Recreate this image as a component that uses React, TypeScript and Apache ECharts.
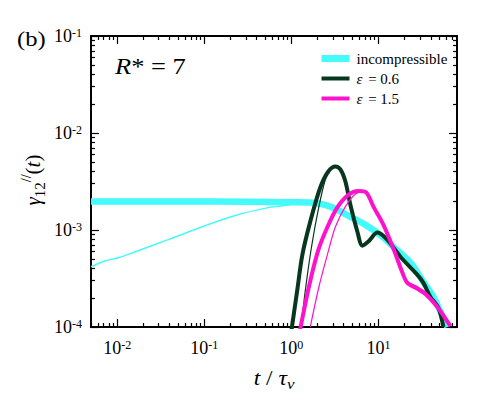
import * as echarts from 'echarts'
import { useEffect, useRef } from 'react'

// t / tau_nu values and gamma_12^//(t) values
const incompT = [0.005, 0.05, 0.3, 1.0, 1.65, 2.8, 4.76, 7.1, 10.5, 14.9, 23.3, 32.9, 42.9, 62]
const incompY = [1.97e-3, 1.97e-3, 1.95e-3, 1.93e-3, 1.92e-3, 1.74e-3, 1.37e-3, 1.13e-3, 8.9e-4, 6.7e-4, 4.6e-4, 2.92e-4, 2.04e-4, 1.0e-4]

const incompThinT = [0.005, 0.0073, 0.0103, 0.0161, 0.0385, 0.0948, 0.227, 0.544, 0.853, 1.37, 1.65, 2.8, 4.76, 7.1, 10.5, 14.9, 23.3, 32.9, 42.9, 62]
const incompThinY = [4.18e-4, 4.82e-4, 5.18e-4, 5.97e-4, 7.94e-4, 1.08e-3, 1.41e-3, 1.7e-3, 1.79e-3, 1.92e-3, 1.92e-3, 1.74e-3, 1.37e-3, 1.13e-3, 8.9e-4, 6.7e-4, 4.6e-4, 2.92e-4, 2.04e-4, 1.0e-4]

const eps06T = [1.0, 1.17, 1.34, 1.65, 2.15, 2.66, 3.21, 3.66, 4.18, 4.76, 5.74, 6.55, 7.67, 9.75, 12.7, 17.9, 28.1, 32.9, 39.6, 49, 55.8]
const eps06Y = [9e-5, 2.4e-4, 5.56e-4, 1.22e-3, 2.74e-3, 4.01e-3, 4.52e-3, 4.21e-3, 3.16e-3, 1.83e-3, 9.6e-4, 6.9e-4, 7.6e-4, 9.4e-4, 7.9e-4, 5.3e-4, 3.45e-4, 2.85e-4, 2.04e-4, 1.57e-4, 1.0e-4]

const eps06ThinT = [1.28, 1.45, 1.7, 2.04, 2.46, 2.88, 3.21, 3.66, 4.18, 4.76, 5.74, 6.55, 7.67, 9.75, 12.7, 17.9, 28.1, 32.9, 39.6, 49, 55.8]
const eps06ThinY = [9e-5, 2.4e-4, 6.56e-4, 1.62e-3, 3.32e-3, 4.42e-3, 4.52e-3, 4.21e-3, 3.16e-3, 1.83e-3, 9.6e-4, 6.9e-4, 7.6e-4, 9.4e-4, 7.9e-4, 5.3e-4, 3.45e-4, 2.85e-4, 2.04e-4, 1.57e-4, 1.0e-4]

const eps15T = [1.25, 1.61, 2.04, 2.57, 3.35, 4.52, 5.89, 7.28, 8.77, 11.4, 14.9, 18.9, 21.5, 28.1, 34.7, 47.6, 67.3]
const eps15Y = [9e-5, 2.71e-4, 6.2e-4, 1.05e-3, 1.69e-3, 2.3e-3, 2.52e-3, 2.43e-3, 1.74e-3, 1.135e-3, 6.4e-4, 3.62e-4, 2.85e-4, 2.47e-4, 2.19e-4, 1.61e-4, 1.02e-4]

const eps15ThinT = [1.65, 2.1, 2.68, 3.21, 4.18, 5.44, 6.55, 7.28, 8.77, 11.4, 14.9, 18.9, 21.5, 28.1, 34.7, 47.6, 67.3]
const eps15ThinY = [1.0e-4, 2.71e-4, 6.2e-4, 1.08e-3, 1.74e-3, 2.35e-3, 2.49e-3, 2.43e-3, 1.74e-3, 1.135e-3, 6.4e-4, 3.62e-4, 2.95e-4, 2.6e-4, 2.3e-4, 1.61e-4, 1.02e-4]

// axis ranges and ticks
const xRange = [0.005, 80]
const yRange = [1e-4, 1e-1]
const xMajorTicks = [0.01, 0.1, 1, 10]
const yMajorTicks = [1e-4, 1e-3, 1e-2, 1e-1]
const minorSteps = [2, 3, 4, 5, 6, 7, 8, 9]

const FONT = 'Liberation Serif'
const CYAN = '#44fafa'
const GREEN = '#08361f'
const MAGENTA = '#ff12cc'

const lg = (v: number) => Math.log10(v)
const pts = (t: number[], y: number[]) => t.map((v, i) => [lg(v), lg(y[i])])

const minorTicks = (lo: number, hi: number) => {
  const out: number[] = []
  for (let e = Math.floor(lg(lo)); e <= Math.ceil(lg(hi)); e++) {
    minorSteps.forEach((k) => {
      const v = k * Math.pow(10, e)
      if (v >= lo * 0.999 && v < hi * 0.999) out.push(lg(v))
    })
  }
  return out
}

// font shorthand for graphic rich tokens
const f = (size: number, italic = false) => `${italic ? 'italic ' : ''}${size}px "${FONT}"`

const labelRich = {
  b: { fontFamily: FONT, fontSize: 18, lineHeight: 18, color: '#000', verticalAlign: 'bottom', padding: [4, 0, 0, 0] },
  s: { fontFamily: FONT, fontSize: 12, lineHeight: 12, color: '#000', verticalAlign: 'top' },
}
const powLabel = (v: number) => `{b|10}{s|${Math.round(v)}}`

const axisLine = { show: true, onZero: false, lineStyle: { color: '#000', width: 1.8 } }

function makeAxis(range: number[], ticks: number[], len: number, position: string, labels: number[] | null, margin = 8) {
  return {
    type: 'value',
    position,
    min: lg(range[0]),
    max: lg(range[1]),
    axisLine,
    axisTick: { show: true, inside: true, length: len, customValues: ticks, lineStyle: { color: '#000', width: 1.2 } },
    axisLabel: labels
      ? {
          show: true,
          customValues: labels,
          formatter: powLabel,
          fontFamily: FONT,
          fontSize: 18,
          color: '#000',
          rich: labelRich,
          margin,
        }
      : { show: false },
    splitLine: { show: false },
  }
}

export default function App() {
  const chartRef = useRef<HTMLDivElement>(null)

  useEffect(() => {
    if (!chartRef.current) return
    const chart = echarts.init(chartRef.current, undefined, { renderer: 'svg' })

    const xMaj = xMajorTicks.map(lg)
    const yMaj = yMajorTicks.map(lg)
    const xMin = minorTicks(xRange[0], xRange[1])
    const yMin = minorTicks(yRange[0], yRange[1])

    const line = (name: string, data: number[][], color: string, width: number, z: number) => ({
      name,
      type: 'line',
      data,
      symbol: 'none',
      smooth: 0.3,
      z,
      lineStyle: { color, width, cap: 'butt' },
      itemStyle: { color },
    })

    const option: any = {
      animation: false,
      textStyle: { fontFamily: FONT },
      grid: { left: 91, right: 34, top: 36, bottom: 73 },
      xAxis: [
        makeAxis(xRange, xMaj, 8, 'bottom', xMaj, 12),
        makeAxis(xRange, xMin, 4, 'bottom', null),
        makeAxis(xRange, xMaj, 8, 'top', null),
        makeAxis(xRange, xMin, 4, 'top', null),
      ],
      yAxis: [
        makeAxis(yRange, yMaj, 8, 'left', yMaj, 9),
        makeAxis(yRange, yMin, 4, 'left', null),
        makeAxis(yRange, yMaj, 8, 'right', null),
        makeAxis(yRange, yMin, 4, 'right', null),
      ],
      legend: {
        orient: 'vertical',
        left: 313,
        top: 46,
        itemWidth: 28,
        itemHeight: 14,
        itemGap: 5,
        data: [
          { name: 'incompressible', lineStyle: { width: 7 }, itemStyle: { opacity: 0 } },
          { name: 'ε = 0.6', lineStyle: { width: 4 }, itemStyle: { opacity: 0 } },
          { name: 'ε = 1.5', lineStyle: { width: 4 }, itemStyle: { opacity: 0 } },
        ],
        formatter: (name: string) =>
          name === 'incompressible' ? `{n|${name}}` : `{e|ε}{n|${name.slice(1)}}`,
        textStyle: {
          fontFamily: FONT,
          fontSize: 15,
          color: '#000',
          rich: {
            n: { fontFamily: FONT, fontSize: 15, color: '#000', padding: [0, 0, 0, 2] },
            e: { fontFamily: FONT, fontSize: 15, fontStyle: 'italic', color: '#000', padding: [0, 0, 0, 2] },
          },
        },
      },
      graphic: [
        {
          type: 'text',
          x: 17,
          y: 38,
          scaleX: 1.12,
          style: { text: '(b)', font: f(22), fill: '#000', align: 'left', verticalAlign: 'middle' },
        },
        {
          type: 'text',
          x: 115,
          y: 66,
          scaleX: 1.15,
          style: {
            text: '{i|R}{n|* = 7}',
            font: f(23),
            fill: '#000',
            align: 'left',
            verticalAlign: 'middle',
            rich: {
              i: { font: f(23, true), fill: '#000' },
              n: { font: f(23), fill: '#000' },
            },
          },
        },
        {
          type: 'text',
          x: 33,
          y: 180,
          rotation: Math.PI / 2,
          style: {
            text: '{g|γ}{sub|12}{sup|//}{n|(}{g|t}{n|)}',
            font: f(21),
            fill: '#000',
            align: 'center',
            verticalAlign: 'middle',
            rich: {
              g: { font: f(21, true), lineHeight: 28, verticalAlign: 'middle', fill: '#000' },
              n: { font: f(21), lineHeight: 28, verticalAlign: 'middle', fill: '#000' },
              sub: { font: f(15), lineHeight: 15, verticalAlign: 'bottom', fill: '#000' },
              sup: { font: f(14), lineHeight: 14, verticalAlign: 'top', fill: '#000' },
            },
          },
        },
        {
          type: 'text',
          x: 274,
          y: 378,
          scaleX: 1.12,
          style: {
            text: '{i|t}{n| / }{i|τ}{sub|ν}',
            font: f(21),
            fill: '#000',
            align: 'center',
            verticalAlign: 'middle',
            rich: {
              i: { font: f(21, true), lineHeight: 26, verticalAlign: 'middle', fill: '#000' },
              n: { font: f(21), lineHeight: 26, verticalAlign: 'middle', fill: '#000' },
              sub: { font: f(15, true), lineHeight: 15, verticalAlign: 'bottom', fill: '#000' },
            },
          },
        },
      ],
      series: [
        line('incompressible', pts(incompT, incompY), CYAN, 6.5, 2),
        line('incompressible thin', pts(incompThinT, incompThinY), CYAN, 1.4, 2),
        line('ε = 0.6', pts(eps06T, eps06Y), GREEN, 4, 3),
        line('ε = 0.6 thin', pts(eps06ThinT, eps06ThinY), GREEN, 1.2, 3),
        line('ε = 1.5', pts(eps15T, eps15Y), MAGENTA, 4, 4),
        line('ε = 1.5 thin', pts(eps15ThinT, eps15ThinY), MAGENTA, 1.2, 4),
      ],
    }

    chart.setOption(option)

    return () => {
      chart.dispose()
    }
  }, [])

  return (
    <div
      ref={chartRef}
      style={{ position: 'fixed', left: 0, top: 0, width: '491px', height: '400px', background: '#fff' }}
    />
  )
}
